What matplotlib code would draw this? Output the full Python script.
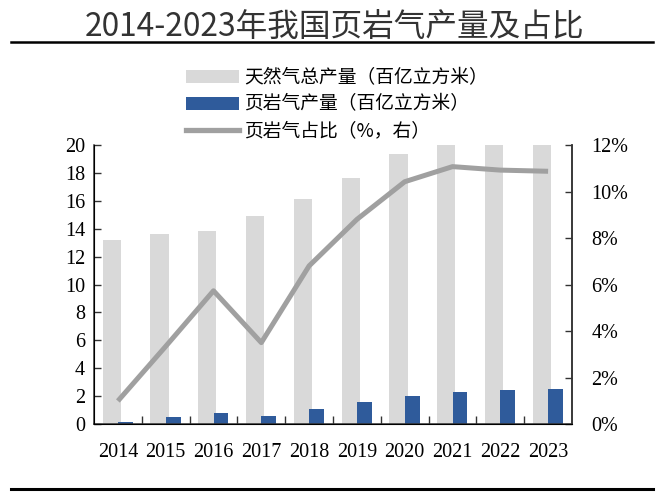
import matplotlib
matplotlib.use('Agg')
import numpy as np
import matplotlib.pyplot as plt
from matplotlib.patches import Patch
from matplotlib.lines import Line2D

CJK = ['Noto Sans CJK SC', 'DejaVu Sans']
SERIF = ['Liberation Serif', 'DejaVu Serif']

# ── 数据 ──────────────────────────────────────────────
years = ['2014', '2015', '2016', '2017', '2018', '2019', '2020', '2021', '2022', '2023']
total_gas = [13.17, 13.6, 13.81, 14.91, 16.13, 17.66, 19.38, 20.76, 22.01, 23.24]   # 百亿立方米
shale_gas = [0.14, 0.48, 0.79, 0.55, 1.10, 1.55, 2.03, 2.32, 2.42, 2.53]          # 百亿立方米
shale_share = [0.99, 3.34, 5.73, 3.50, 6.80, 8.80, 10.42, 11.07, 10.92, 10.87]    # %

left_ticks = [0, 2, 4, 6, 8, 10, 12, 14, 16, 18, 20]
right_ticks = [0, 2, 4, 6, 8, 10, 12]

GREY_BAR = '#d9d9d9'
BLUE_BAR = '#2f5b9b'
LINE_GREY = '#a0a0a0'

fig = plt.figure(figsize=(6.6, 5.01), dpi=100)
W, H = 660, 501
ax = fig.add_axes([94 / W, 1 - 424 / H, 478 / W, 279 / H])

x = np.arange(len(years))
ax.bar(x - 0.13, total_gas, 0.38, color=GREY_BAR, zorder=1)
ax.bar(x + 0.155, shale_gas, 0.31, color=BLUE_BAR, zorder=2)
ax.set_xlim(-0.5, len(years) - 0.5)
ax.set_ylim(0, 20)
ax.set_yticks(left_ticks)
ax.set_yticklabels([str(v) for v in left_ticks], family=SERIF, fontsize=14.5)
ax.set_xticks(x)
ax.set_xticklabels(years, family=SERIF, fontsize=14.5)
ax.set_xticks(np.arange(0.5, len(years) - 0.5, 1), minor=True)
ax.tick_params(axis='x', which='major', length=0, pad=13.5)
ax.tick_params(axis='x', which='minor', direction='in', length=5.5, width=1, color='#333333')
ax.tick_params(axis='y', direction='in', length=5, width=1, pad=6.5, color='#333333')
ax.spines['top'].set_visible(False)
for s in ['left', 'bottom', 'right']:
    ax.spines[s].set_color('#333333')
    ax.spines[s].set_linewidth(1.1)

ax2 = ax.twinx()
ax2.plot(x, shale_share, color=LINE_GREY, lw=3.6, solid_capstyle='butt', zorder=3)
ax2.set_ylim(0, 12)
ax2.set_yticks(right_ticks)
ax2.set_yticklabels([f'{v}%' for v in right_ticks], family=SERIF, fontsize=14.5)
ax2.tick_params(axis='y', direction='in', length=5, width=1, pad=14, color='#333333')
ax2.spines['top'].set_visible(False)
ax2.spines['right'].set_color('#333333')
ax2.spines['right'].set_linewidth(1.1)

# ── 图例 ──────────────────────────────────────────────
handles = [Patch(facecolor=GREY_BAR, edgecolor='none'),
           Patch(facecolor=BLUE_BAR, edgecolor='none'),
           Line2D([], [], color=LINE_GREY, lw=3.8)]
labels = ['天然气总产量（百亿立方米）', '页岩气产量（百亿立方米）', '页岩气占比（%，右）']
fig.legend(handles, labels, loc='upper left', bbox_to_anchor=(186 / W, 1 - 67 / H),
           frameon=False, borderpad=0, borderaxespad=0, handlelength=2.8,
           handleheight=0.7, handletextpad=0.3, labelspacing=0.3,
           prop={'family': CJK, 'size': 13.5, 'weight': 'light'})

# ── 标题与横线 ────────────────────────────────────────
fig.text(335 / W, 1 - 37 / H, '2014-2023年我国页岩气产量及占比', ha='center', va='baseline',
         family=CJK, fontsize=22.8, fontweight='light', color='#333333')
fig.add_artist(Line2D([11 / W, 653 / W], [1 - 42 / H, 1 - 42 / H], color='black', lw=1.8,
                      transform=fig.transFigure))
fig.add_artist(Line2D([11 / W, 653 / W], [1 - 489 / H, 1 - 489 / H], color='black', lw=2.2,
                      transform=fig.transFigure))

fig.savefig('out.png', dpi=100)
